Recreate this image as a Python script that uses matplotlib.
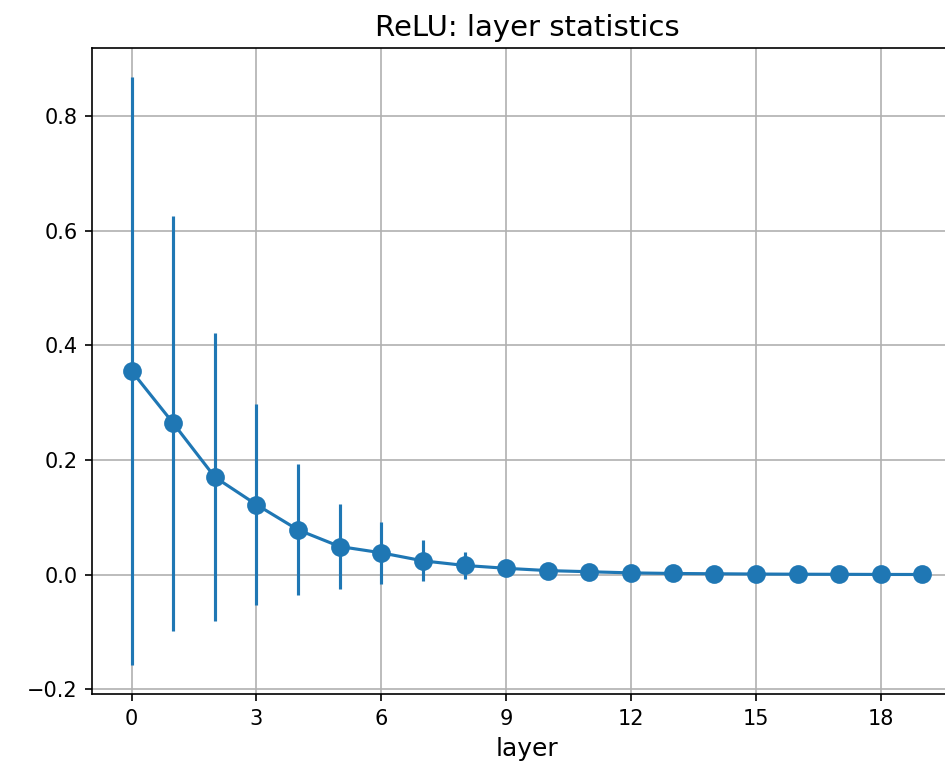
import numpy as np
import matplotlib
matplotlib.use("Agg")
import matplotlib.pyplot as plt

# per-layer activation statistics (mean and std)
layers = np.arange(20)
means = [0.355, 0.264, 0.170, 0.122, 0.078, 0.049, 0.038, 0.024, 0.016, 0.011,
         0.007, 0.005, 0.003, 0.002, 0.0015, 0.001, 0.0007, 0.0005, 0.0003, 0.0002]
stds = [0.512, 0.362, 0.251, 0.175, 0.114, 0.074, 0.054, 0.036, 0.024, 0.014,
        0.008, 0.005, 0.003, 0.002, 0.0015, 0.001, 0.0007, 0.0005, 0.0003, 0.0002]

fig = plt.figure(figsize=(6.3, 5.127), dpi=150)
# right edge of the axes falls outside the saved figure, as in the original
ax = fig.add_axes([0.0974, 0.0975, 0.9206, 0.8400])

ax.errorbar(layers, means, yerr=stds, fmt='-o', color='#1f77b4',
            markersize=8, linewidth=1.5, elinewidth=1.5)

ax.set_xticks(np.arange(0, 19, 3))
ax.set_yticks([-0.2, 0.0, 0.2, 0.4, 0.6, 0.8])
ax.grid(True)
ax.set_xlabel('layer', fontsize=12)
ax.set_title('ReLU: layer statistics', fontsize=14)

fig.savefig('out.png', dpi=150)
